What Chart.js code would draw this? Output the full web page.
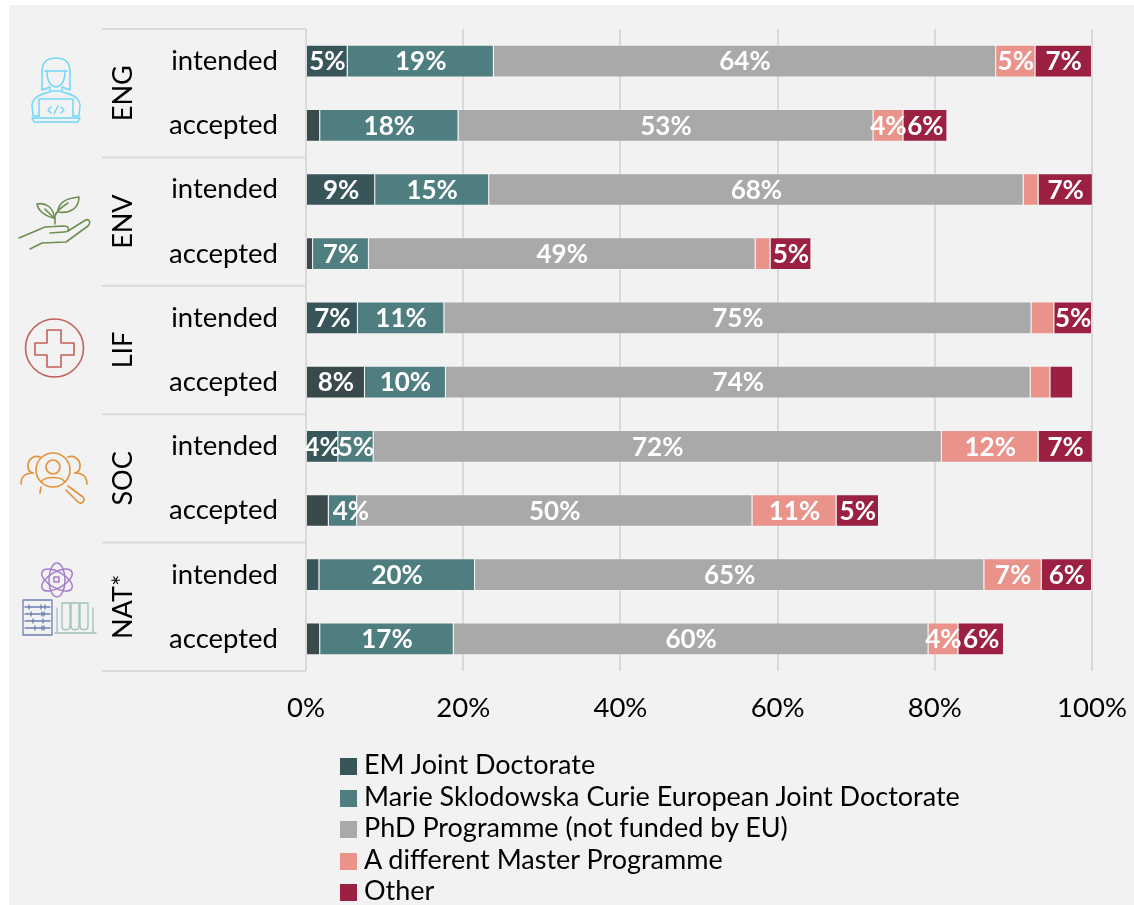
<!DOCTYPE html>
<html>
<head>
<meta charset="utf-8">
<title>Chart</title>
<script src="https://cdn.jsdelivr.net/npm/chart.js@4"></script>
<style>
  html, body { margin: 0; padding: 0; background: #fff; }
  body { width: 1134px; height: 905px; overflow: hidden; position: relative; font-family: Lato, sans-serif; }
  #panel { position: absolute; left: 9px; top: 5px; right: 0; bottom: 0; background: #f2f2f2; }
  canvas { position: absolute; left: 0; top: 0; }
  #legend { position: absolute; left: 340px; top: 748px; font-size: 27px; color: #000; }
  #legend div { height: 31.6px; line-height: 31.6px; white-space: nowrap; }
  #legend i { display: inline-block; width: 17px; height: 17px; margin-right: 7px; vertical-align: -1px; }
</style>
</head>
<body>
<div id="panel"></div>
<canvas id="chart" width="1134" height="905"></canvas>
<div id="legend"></div>
<script>
const groups = ['ENG', 'ENV', 'LIF', 'SOC', 'NAT*'];
const categories = ['intended', 'accepted', 'intended', 'accepted', 'intended', 'accepted', 'intended', 'accepted', 'intended', 'accepted'];
const xTicks = [0, 20, 40, 60, 80, 100];

const emJoint = [5.3, 1.8, 8.8, 0.9, 6.6, 7.5, 4.1, 2.9, 1.7, 1.8];
const marieCurie = [18.6, 17.6, 14.5, 7.1, 11.0, 10.3, 4.5, 3.6, 19.8, 17.0];
const phdProgramme = [63.9, 52.8, 68.0, 49.2, 74.7, 74.4, 72.3, 50.3, 64.8, 60.4];
const otherMaster = [5.0, 3.8, 1.9, 1.9, 2.9, 2.5, 12.3, 10.7, 7.3, 3.8];
const other = [7.2, 5.6, 6.9, 5.2, 4.8, 2.9, 6.9, 5.4, 6.4, 5.8];

const seriesNames = ['EM Joint Doctorate', 'Marie Sklodowska Curie European Joint Doctorate', 'PhD Programme (not funded by EU)', 'A different Master Programme', 'Other'];
const seriesValues = [emJoint, marieCurie, phdProgramme, otherMaster, other];
const seriesColors = ['#38555a', '#4f7e80', '#a9a9a9', '#e9938a', '#9b2042'];
const emAcceptedColor = '#3a494c';

const fontName = 'Lato, sans-serif';

// white % labels in the middle of each segment, tiny ones are left out
const segmentLabels = {
    id: 'segmentLabels',
    afterDatasetsDraw(chart) {
        const ctx = chart.ctx;
        ctx.save();
        ctx.fillStyle = '#fff';
        ctx.font = 'bold 26px ' + fontName;
        ctx.textAlign = 'center';
        ctx.textBaseline = 'middle';
        chart.data.datasets.forEach((ds, i) => {
            chart.getDatasetMeta(i).data.forEach((bar, j) => {
                if (ds.data[j] < 3.5) return;
                // the SOC accepted 4% sits off centre in the original
                const nudge = (i === 1 && j === 7) ? 8 : 0;
                ctx.fillText(Math.round(ds.data[j]) + '%', (bar.x + bar.base) / 2 + nudge, bar.y + 1);
            });
        });
        ctx.restore();
    }
};

// group separators and rotated group names left of the tick labels
const groupAxis = {
    id: 'groupAxis',
    afterDraw(chart) {
        const ctx = chart.ctx;
        const area = chart.chartArea;
        const step = (area.bottom - area.top) / groups.length;
        ctx.save();
        ctx.strokeStyle = '#d9d9d9';
        ctx.lineWidth = 2;
        for (let i = 0; i <= groups.length; i++) {
            const y = area.top + i * step;
            ctx.beginPath();
            ctx.moveTo(102, y);
            ctx.lineTo(area.left, y);
            ctx.stroke();
        }
        ctx.fillStyle = '#000';
        ctx.font = '27px ' + fontName;
        ctx.textAlign = 'center';
        ctx.textBaseline = 'middle';
        groups.forEach((g, i) => {
            ctx.save();
            ctx.translate(123, area.top + (i + 0.5) * step);
            ctx.rotate(-Math.PI / 2);
            ctx.fillText(g, 0, 0);
            ctx.restore();
        });
        ctx.restore();
    }
};

function strokePaths(ctx, color, width, paths) {
    ctx.strokeStyle = color;
    ctx.lineWidth = width;
    paths.forEach(p => ctx.stroke(new Path2D(p)));
}

// the five little subject icons on the far left
const subjectIcons = {
    id: 'subjectIcons',
    afterDraw(chart) {
        const ctx = chart.ctx;
        ctx.save();
        ctx.lineJoin = 'round';
        ctx.lineCap = 'round';

        strokePaths(ctx, '#6fd8f7', 1.5, [
            'M42 90 L42 72 C42 62 48 58 56 58 C64 58 70 62 70 72 L70 90 L62 87 L62 91 L50 91 L50 87 Z',
            'M45 71 L67 71 M47 71 C47 80 50 86 56 87 C62 86 65 80 65 71',
            'M39 116 L33 116 L32 106 C32 98 40 94 50 92 M73 116 L79 116 L80 106 C80 98 72 94 62 92',
            'M39 116 L39 99 L73 99 L73 116',
            'M32 118 L80 118 L78 122 L34 122 Z',
            'M51 107 L48 110 L51 113 M61 107 L64 110 L61 113 M58 106 L54 114'
        ]);

        strokePaths(ctx, '#6f8f4f', 1.6, [
            'M19 238 L45 227 L64 226 C70 226 70 232 64 232 L50 233',
            'M30 249 L42 243 L66 242 L88 226 C92 221 88 218 84 221 L68 231',
            'M54 218 C44 216 38 210 37 204 C46 202 54 208 54 218 Z',
            'M58 212 C58 202 68 198 79 197 C79 208 70 214 58 212 Z',
            'M55 224 L55 216 C56 212 60 208 68 203 M54 218 L45 209'
        ]);

        strokePaths(ctx, '#c25f57', 1.6, [
            'M83.5 348 A29 29 0 1 1 25.5 348 A29 29 0 1 1 83.5 348',
            'M47 330 L61 330 L61 343 L74 343 L74 355 L61 355 L61 367 L47 367 L47 355 L35 355 L35 343 L47 343 Z'
        ]);

        strokePaths(ctx, '#e2953f', 1.7, [
            'M70 470 A17 17 0 1 1 36 470 A17 17 0 1 1 70 470',
            'M60 467 A7 7 0 1 1 46 467 A7 7 0 1 1 60 467',
            'M41 482 C45 476 61 476 65 482',
            'M68 486 L83 497 C86 501 81 505 78 502 L66 490',
            'M33 473 C27 472 26 462 32 458 C34 456 38 456 40 457',
            'M75 473 C81 472 82 462 76 458 C74 456 70 456 68 457',
            'M21 484 C21 476 26 473 33 473 M87 484 C87 476 82 473 75 473 M41 487 L40 493'
        ]);

        ctx.strokeStyle = '#a77bc9';
        ctx.lineWidth = 1.5;
        [0, Math.PI / 3, -Math.PI / 3].forEach(a => {
            ctx.beginPath();
            ctx.ellipse(57, 580, 8, 17, a, 0, Math.PI * 2);
            ctx.stroke();
        });
        ctx.strokeRect(54, 577, 5, 5);

        const abacus = ['M23 600 L52 600 L52 635 L23 635 Z'];
        [607, 614, 621, 628].forEach((y, i) => {
            abacus.push('M25 ' + y + ' L50 ' + y);
            abacus.push('M' + (29 + i * 2) + ' ' + (y - 2) + ' l0 4 M' + (41 + i) + ' ' + (y - 2) + ' l0 4 M' + (45 - i) + ' ' + (y - 2) + ' l0 4');
        });
        strokePaths(ctx, '#6b7fae', 1.3, abacus);

        strokePaths(ctx, '#9fc0bb', 1.3, [
            'M62 603 L62 626 C62 631 70 631 70 626 L70 603 Z',
            'M71 603 L71 626 C71 631 79 631 79 626 L79 603 Z',
            'M80 603 L80 626 C80 631 88 631 88 626 L88 603 Z',
            'M57 608 L57 632 M93 608 L93 632 M55 633 L96 633'
        ]);
        ctx.restore();
    }
};

new Chart(document.getElementById('chart'), {
    type: 'bar',
    data: {
        labels: categories,
        datasets: seriesNames.map((name, i) => ({
            label: name,
            data: seriesValues[i],
            // accepted EM bars are a touch greyer in the original
            backgroundColor: c => (i === 0 && c.dataIndex % 2 === 1) ? emAcceptedColor : seriesColors[i],
            borderColor: 'rgba(255,255,255,0.25)',
            borderWidth: 1,
            barPercentage: 0.51,
            categoryPercentage: 1
        }))
    },
    options: {
        indexAxis: 'y',
        responsive: false,
        animation: false,
        layout: { padding: { top: 29, right: 42 } },
        plugins: { legend: { display: false }, tooltip: { enabled: false } },
        scales: {
            x: {
                stacked: true,
                min: 0,
                max: 100,
                // tick labels may stick out past the plot, no extra margin for them
                afterFit(axis) {
                    axis.height = 234;
                    axis.paddingLeft = 0;
                    axis.paddingRight = 0;
                },
                afterBuildTicks(axis) { axis.ticks = xTicks.map(v => ({ value: v })); },
                grid: { color: '#d9d9d9', lineWidth: 2, drawTicks: false },
                border: { display: false },
                ticks: {
                    color: '#000',
                    font: { family: fontName, size: 27.5 },
                    padding: 21,
                    maxRotation: 0,
                    callback: v => v + '%'
                }
            },
            y: {
                stacked: true,
                afterFit(axis) {
                    axis.width = 306;
                    axis.paddingTop = 0;
                    axis.paddingBottom = 0;
                },
                grid: { display: false, drawTicks: false },
                border: { display: false },
                ticks: {
                    color: '#000',
                    font: { family: fontName, size: 27.5 },
                    padding: 28
                }
            }
        }
    },
    plugins: [segmentLabels, groupAxis, subjectIcons]
});

// legend is one column under the plot
const legendBox = document.getElementById('legend');
seriesNames.forEach((name, i) => {
    const row = document.createElement('div');
    const swatch = document.createElement('i');
    swatch.style.background = seriesColors[i];
    row.appendChild(swatch);
    row.appendChild(document.createTextNode(name));
    legendBox.appendChild(row);
});
</script>
</body>
</html>
